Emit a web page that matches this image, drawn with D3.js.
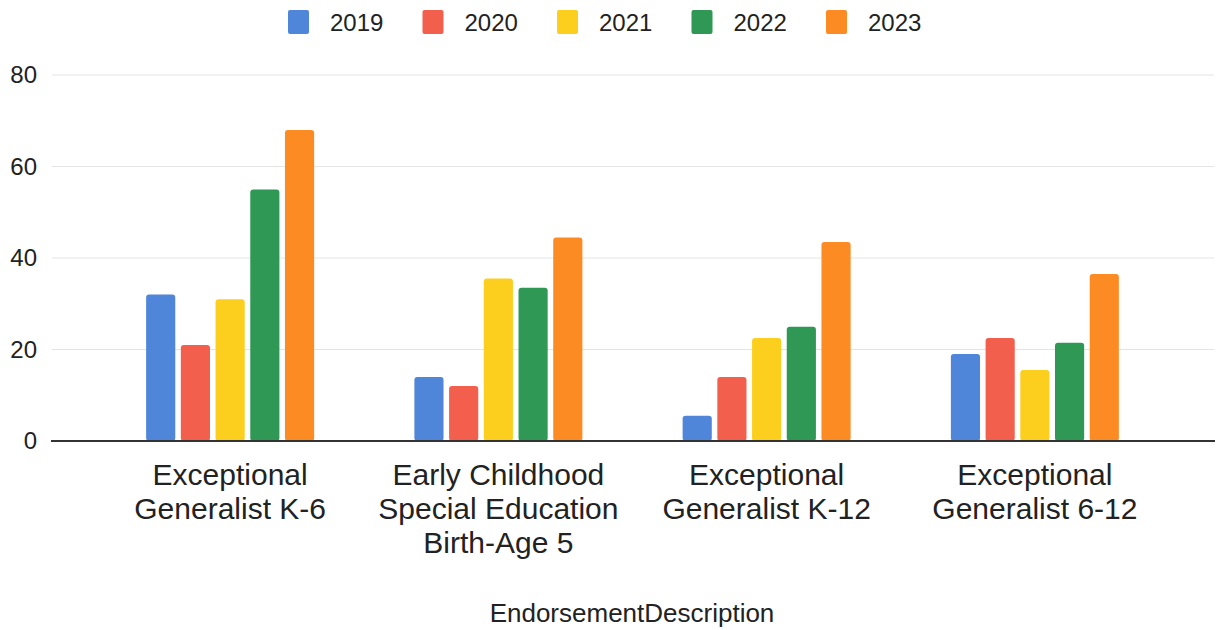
<!DOCTYPE html>
<html>
<head>
<meta charset="utf-8">
<script src="https://cdn.jsdelivr.net/npm/d3@7"></script>
<style>
  body { margin: 0; background: #fff; }
  text { font-family: "Liberation Sans", Arial, sans-serif; fill: #222; }
</style>
</head>
<body>
<svg id="chart" width="1216" height="630"></svg>
<script>
// categories and the lines each label wraps into
const categories = ["EG K-6", "ECSE B-5", "EG K-12", "EG 6-12"];
const categoryLabels = [
  ["Exceptional", "Generalist K-6"],
  ["Early Childhood", "Special Education", "Birth-Age 5"],
  ["Exceptional", "Generalist K-12"],
  ["Exceptional", "Generalist 6-12"]
];
const years = ["2019", "2020", "2021", "2022", "2023"];
const colors = ["#4f86da", "#f25f4c", "#fccf1f", "#2f9855", "#fd8b24"];

// values per year, in category order
const v2019 = [32, 14, 5.5, 19];
const v2020 = [21, 12, 14, 22.5];
const v2021 = [31, 35.5, 22.5, 15.5];
const v2022 = [55, 33.5, 25, 21.5];
const v2023 = [68, 44.5, 43.5, 36.5];
const series = [v2019, v2020, v2021, v2022, v2023];

const yTicks = [0, 20, 40, 60, 80];

const svg = d3.select("#chart");

const gridLeft = 52, gridRight = 1214;
const yScale = d3.scaleLinear().domain([0, 80]).range([441, 75]);

const xScale = d3.scaleBand().domain(categories).range([96, 1169]).padding(0);
const groupWidth = 168;
const xInner = d3.scaleBand().domain(years).range([-groupWidth / 2, groupWidth / 2])
  .paddingInner(0.16).paddingOuter(0);

// gridlines
svg.append("g").selectAll("line")
  .data(yTicks.filter(d => d > 0))
  .join("line")
  .attr("x1", gridLeft).attr("x2", gridRight)
  .attr("y1", d => yScale(d)).attr("y2", d => yScale(d))
  .attr("stroke", "#e4e4e4").attr("stroke-width", 1);

// y axis labels
const yAxis = d3.axisLeft(yScale).tickValues(yTicks).tickSize(0).tickPadding(0);
svg.append("g")
  .attr("transform", "translate(37,0)")
  .call(yAxis)
  .call(g => g.select(".domain").remove())
  .selectAll("text")
  .attr("font-size", 24)
  .attr("font-family", "Liberation Sans, Arial, sans-serif")
  .attr("fill", "#222");

// bars
const rows = [];
categories.forEach((c, i) => {
  years.forEach((y, j) => rows.push({ cat: c, year: y, value: series[j][i], color: colors[j] }));
});

svg.append("g").selectAll("rect")
  .data(rows)
  .join("rect")
  .attr("x", d => xScale(d.cat) + xScale.bandwidth() / 2 + xInner(d.year))
  .attr("width", xInner.bandwidth())
  .attr("y", d => yScale(d.value))
  .attr("height", d => yScale(0) - yScale(d.value))
  .attr("rx", 3)
  .attr("fill", d => d.color);

// baseline
svg.append("line")
  .attr("x1", 51).attr("x2", 1215)
  .attr("y1", yScale(0)).attr("y2", yScale(0))
  .attr("stroke", "#333").attr("stroke-width", 2);

// category labels
const catG = svg.append("g").selectAll("text")
  .data(categories)
  .join("text")
  .attr("text-anchor", "middle")
  .attr("font-size", 30)
  .attr("x", d => xScale(d) + xScale.bandwidth() / 2)
  .attr("y", 485);
catG.selectAll("tspan")
  .data((d, i) => categoryLabels[i].map(line => ({ line, x: xScale(d) + xScale.bandwidth() / 2 })))
  .join("tspan")
  .attr("x", d => d.x)
  .attr("dy", (d, i) => i === 0 ? 0 : 34)
  .text(d => d.line);

// axis title
svg.append("text")
  .attr("x", 632).attr("y", 622)
  .attr("text-anchor", "middle")
  .attr("font-size", 26)
  .text("EndorsementDescription");

// legend
const legend = svg.append("g").selectAll("g")
  .data(years)
  .join("g")
  .attr("transform", (d, i) => `translate(${288 + i * 134.5},10)`);
legend.append("rect")
  .attr("width", 21).attr("height", 24).attr("rx", 2)
  .attr("fill", (d, i) => colors[i]);
legend.append("text")
  .attr("x", 42).attr("y", 21)
  .attr("font-size", 24)
  .text(d => d);
</script>
</body>
</html>
